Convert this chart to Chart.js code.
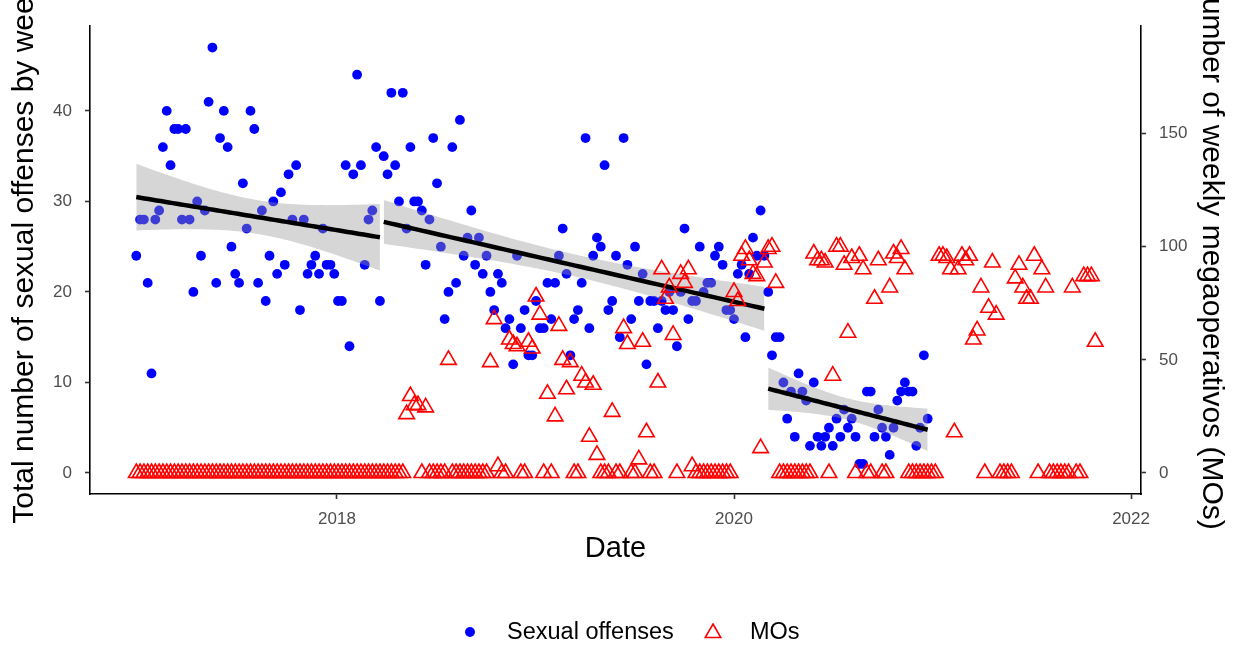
<!DOCTYPE html>
<html>
<head>
<meta charset="utf-8">
<title>Sexual offenses and MOs</title>
<script src="https://cdn.jsdelivr.net/npm/chart.js@4.4.1/dist/chart.umd.min.js"></script>
<style>
  html, body { margin: 0; padding: 0; background: #fff; }
  #wrap { position: relative; width: 1236px; height: 646px; overflow: hidden; }
  #chart { position: absolute; left: 0; top: 0; }
  .lg { position: absolute; font-family: "Liberation Sans", Arial, sans-serif; font-size: 23.5px; color: #000; line-height: 1; transform: translateY(-50%); top: 632px; white-space: nowrap; }
  .dot { position: absolute; width: 10px; height: 10px; border-radius: 50%; background: #0000ff; left: 465px; top: 627px; }
  .tri { position: absolute; left: 704px; top: 623px; }
</style>
</head>
<body>
<div id="wrap">
  <canvas id="chart" width="1236" height="646"></canvas>
  <div class="dot"></div>
  <span class="lg" style="left:507px">Sexual offenses</span>
  <svg class="tri" width="18" height="18" viewBox="0 0 18 18"><polygon points="9,1 16.8,14.5 1.2,14.5" fill="none" stroke="#ff0000" stroke-width="1.6"/></svg>
  <span class="lg" style="left:750px">MOs</span>
</div>
<script>
// weekly series, first week starting on this date
const firstWeek = '2016-12-28';

// total sexual offenses per week
const offenses = [
  24, 28, 28, 21, 11, 28, 29, 36, 40, 34, 38, 38, 28, 38, 28, 20, 30, 24, 29, 41,
  47, 21, 37, 40, 36, 25, 22, 21, 32, 27, 40, 38, 21, 29, 19, 24, 30, 22, 31, 23,
  33, 28, 34, 18, 28, 22, 23, 24, 22, 27, 23, 23, 22, 19, 19, 34, 14, 33, 44, 34,
  23, 28, 29, 36, 19,
  35, 33, 42, 34, 30, 42, 27, 36, 30, 30, 29, 23, 28, 37, 32, 25, 17, 20, 36, 21,
  39, 24, 26, 29, 23, 26, 22, 24, 20, 18, 22, 21, 16, 17, 12, 24, 16, 18, 13, 13,
  19, 16, 16, 21, 17, 21, 24, 27, 22, 13, 17, 18, 21, 37, 16, 24, 26, 25, 34, 18,
  19, 24, 15, 37, 23, 17, 25, 19, 22, 12, 19, 19, 16, 19, 18, 20, 18, 14, 20, 27,
  17, 19, 19, 25, 20, 21, 21, 24, 25, 23, 18, 18, 17, 22, 23, 15, 22, 26, 24, 29,
  24,
  20, 13, 15, 15, 10, 6, 9, 4, 11, 9, 8, 3, 10, 4, 3, 4, 5, 3, 6, 4,
  7, 5, 6, 4, 1, 1, 9, 9, 4, 7, 5, 4, 2, 5, 8, 9, 10, 9, 9, 3,
  5, 13, 6
];

// weekly megaoperativos (MOs)
const megaoperativos = [
  0, 0, 0, 0, 0, 0, 0, 0, 0, 0, 0, 0, 0, 0, 0, 0, 0, 0, 0, 0,
  0, 0, 0, 0, 0, 0, 0, 0, 0, 0, 0, 0, 0, 0, 0, 0, 0, 0, 0, 0,
  0, 0, 0, 0, 0, 0, 0, 0, 0, 0, 0, 0, 0, 0, 0, 0, 0, 0, 0, 0,
  0, 0, 0, 0, 0, 0, 0, 0, 0, 0, 0,
  26, 34, 30, 30, 0, 29, 0, 0, 0, 0, 0, 50,
  0, 0, 0, 0, 0, 0, 0, 0, 0, 0,
  49, 68, 3, 0, 0, 59, 57, 56, 0, 0, 58, 55, 78, 70,
  0, 35, 0, 25, 65, 50, 37, 49, 0, 0, 43, 40, 16, 39, 8,
  0, 0, 0, 27, 0, 0, 64, 57, 0, 0, 6, 58, 18, 0, 0, 40,
  90, 77, 82, 61, 0, 88, 84, 90, 3,
  0, 0, 0, 0, 0, 0, 0, 0, 0, 0,
  80, 76, 96, 99, 94, 88, 87, 11, 93, 99, 100, 84,
  0, 0, 0, 0, 0, 0, 0, 0, 0,
  97, 94, 94, 93, 0, 43, 100, 100, 92, 62, 95, 0, 96, 90, 0, 0, 77, 94, 0, 0,
  82, 97, 95, 99, 90,
  0, 0, 0, 0, 0, 0, 0, 0,
  96, 96, 95, 90, 18, 90, 96, 94, 96, 59, 63, 82, 0, 73, 93, 70,
  0, 0, 0, 0,
  86, 92, 82, 77, 77, 96, 0, 90, 82, 0, 0, 0, 0, 0, 0, 82, 0, 0, 87, 87,
  87, 58
];

// week index where each fitted period begins
const periodStarts = [0, 65, 166];

const xTicks = [2018, 2020, 2022];
const yTicks = [0, 10, 20, 30, 40];
const y2Ticks = [0, 50, 100, 150];

const leftTitle = 'Total number of sexual offenses by week';
const rightTitle = 'Number of weekly megaoperativos (MOs)';

const FONT = '"Liberation Sans", Arial, sans-serif';
const MO_SCALE = 4;

function weekToYear(i) {
  const d = new Date(firstWeek + 'T00:00:00Z');
  d.setUTCDate(d.getUTCDate() + 7 * i);
  const y = d.getUTCFullYear();
  const start = Date.UTC(y, 0, 1);
  const end = Date.UTC(y + 1, 0, 1);
  return y + (d.getTime() - start) / (end - start);
}

// least squares line with 95% confidence band over one period
function fitPeriod(from, to) {
  const xs = [];
  const ys = [];
  for (let i = from; i < to; i++) {
    xs.push(weekToYear(i));
    ys.push(offenses[i]);
  }
  const n = xs.length;
  const mx = xs.reduce((a, b) => a + b, 0) / n;
  const my = ys.reduce((a, b) => a + b, 0) / n;
  let sxx = 0, sxy = 0;
  for (let k = 0; k < n; k++) {
    sxx += (xs[k] - mx) ** 2;
    sxy += (xs[k] - mx) * (ys[k] - my);
  }
  const slope = sxy / sxx;
  const icpt = my - slope * mx;
  let sse = 0;
  for (let k = 0; k < n; k++) sse += (ys[k] - icpt - slope * xs[k]) ** 2;
  const s = Math.sqrt(sse / (n - 2));
  const z = 1.959964;
  const t = z + (z ** 3 + z) / (4 * (n - 2));
  const line = [], upper = [], lower = [];
  const steps = 60;
  for (let k = 0; k <= steps; k++) {
    const x = xs[0] + (xs[n - 1] - xs[0]) * k / steps;
    const yhat = icpt + slope * x;
    const se = s * Math.sqrt(1 / n + (x - mx) ** 2 / sxx);
    line.push({ x, y: yhat });
    upper.push({ x, y: yhat + t * se });
    lower.push({ x, y: yhat - t * se });
  }
  return { line, upper, lower };
}

const datasets = [];

datasets.push({
  type: 'scatter',
  label: 'Sexual offenses',
  data: offenses.map((v, i) => ({ x: weekToYear(i), y: v })),
  pointStyle: 'circle',
  pointRadius: 4.9,
  pointHoverRadius: 4.9,
  pointBorderWidth: 0,
  backgroundColor: '#0000ff',
  borderColor: '#0000ff',
  yAxisID: 'y',
  order: 3
});

periodStarts.forEach((from, p) => {
  const to = p + 1 < periodStarts.length ? periodStarts[p + 1] : offenses.length;
  const fit = fitPeriod(from, to);
  datasets.push({
    type: 'line', data: fit.upper, borderWidth: 0, pointRadius: 0,
    fill: false, yAxisID: 'y', order: 2
  });
  datasets.push({
    type: 'line', data: fit.lower, borderWidth: 0, pointRadius: 0,
    fill: '-1', backgroundColor: 'rgba(153,153,153,0.4)', yAxisID: 'y', order: 2
  });
  datasets.push({
    type: 'line', data: fit.line, borderColor: '#000', borderWidth: 4.5,
    pointRadius: 0, fill: false, yAxisID: 'y', order: 1
  });
});

datasets.push({
  type: 'scatter',
  label: 'MOs',
  data: megaoperativos.map((v, i) => ({ x: weekToYear(i), y: v })),
  pointStyle: 'triangle',
  pointRadius: 9,
  pointHoverRadius: 9,
  pointBorderWidth: 1.6,
  backgroundColor: 'rgba(0,0,0,0)',
  borderColor: '#ff0000',
  yAxisID: 'y2',
  order: 0
});

const yMin = -2.32, yMax = 49.38;

// vertical axis titles, centred a little above the panel middle and
// clipped by the canvas edge like the long labels they are
const sideTitles = {
  id: 'sideTitles',
  afterDraw(chart) {
    const { ctx, chartArea } = chart;
    const cy = (chartArea.top + chartArea.bottom) / 2 - 7;
    ctx.save();
    ctx.font = '30px ' + FONT;
    ctx.fillStyle = '#000';
    ctx.textAlign = 'center';
    ctx.textBaseline = 'middle';
    ctx.translate(24.5, cy);
    ctx.rotate(-Math.PI / 2);
    ctx.fillText(leftTitle, 0, 0);
    ctx.restore();
    ctx.save();
    ctx.font = '30px ' + FONT;
    ctx.fillStyle = '#000';
    ctx.textAlign = 'center';
    ctx.textBaseline = 'middle';
    ctx.translate(chart.width - 24.5, cy);
    ctx.rotate(Math.PI / 2);
    ctx.fillText(rightTitle, 0, 0);
    ctx.restore();
  }
};

const axisGrid = { drawOnChartArea: false, drawTicks: true, tickLength: 5, tickColor: '#333333', tickWidth: 1.6 };
const axisBorder = { display: true, color: '#000', width: 1.6 };
const tickFont = { family: FONT, size: 17 };

new Chart(document.getElementById('chart'), {
  data: { datasets },
  plugins: [sideTitles],
  options: {
    responsive: false,
    animation: false,
    devicePixelRatio: 1,
    layout: { padding: { top: 26, left: 0, right: 0, bottom: 0 } },
    plugins: { legend: { display: false }, tooltip: { enabled: false } },
    scales: {
      x: {
        type: 'linear',
        position: 'bottom',
        min: 2016.756,
        max: 2022.05,
        afterBuildTicks: (s) => { s.ticks = xTicks.map((v) => ({ value: v })); },
        afterFit: (s) => { s.height = 152; },
        grid: axisGrid,
        border: axisBorder,
        ticks: { color: '#4d4d4d', font: tickFont, padding: 10, maxRotation: 0, callback: (v) => String(v) },
        title: { display: true, text: 'Date', color: '#000', font: { family: FONT, size: 29 }, padding: { top: 0, bottom: 80 } }
      },
      y: {
        type: 'linear',
        position: 'left',
        min: yMin,
        max: yMax,
        afterBuildTicks: (s) => { s.ticks = yTicks.map((v) => ({ value: v })); },
        afterFit: (s) => { s.width = 90; },
        grid: axisGrid,
        border: axisBorder,
        ticks: { color: '#4d4d4d', font: tickFont, padding: 13, callback: (v) => String(v) }
      },
      y2: {
        type: 'linear',
        position: 'right',
        min: yMin * MO_SCALE,
        max: yMax * MO_SCALE,
        afterBuildTicks: (s) => { s.ticks = y2Ticks.map((v) => ({ value: v })); },
        afterFit: (s) => { s.width = 95; },
        grid: axisGrid,
        border: axisBorder,
        ticks: { color: '#4d4d4d', font: tickFont, padding: 13, callback: (v) => String(v) }
      }
    }
  }
});
</script>
</body>
</html>
